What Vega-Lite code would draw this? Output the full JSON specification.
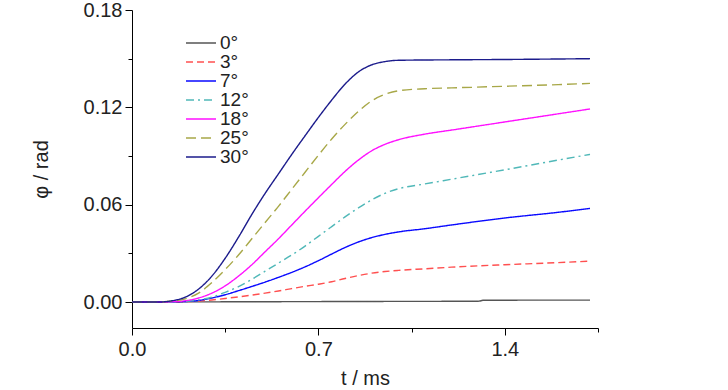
{
  "$schema": "https://vega.github.io/schema/vega-lite/v6.json",
  "width": 466,
  "height": 318,
  "autosize": {"type": "none"},
  "padding": {"left": 132, "top": 10, "right": 130, "bottom": 62},
  "background": "white",
  "config": {
    "view": {"stroke": null},
    "font": "Liberation Sans",
    "axis": {"domainColor": "#000000", "tickColor": "#000000", "labelColor": "#222222", "titleColor": "#222222", "labelFont": "Liberation Sans", "titleFont": "Liberation Sans", "labelFontSize": 20, "titleFontSize": 20, "titleFontWeight": "normal", "grid": false}
  },
  "data": {"values": [
    {"angle":"0°","t":0,"phi":0},{"angle":"0°","t":0.5,"phi":0.0002},{"angle":"0°","t":1.0,"phi":0.0004},{"angle":"0°","t":1.3,"phi":0.0005},{"angle":"0°","t":1.32,"phi":0.0011},{"angle":"0°","t":1.72,"phi":0.0012},

    {"angle":"3°","t":0,"phi":0},{"angle":"3°","t":0.12,"phi":0},{"angle":"3°","t":0.2,"phi":0.0002},{"angle":"3°","t":0.25,"phi":0.0006},{"angle":"3°","t":0.3,"phi":0.0013},{"angle":"3°","t":0.35,"phi":0.0022},{"angle":"3°","t":0.4,"phi":0.0032},{"angle":"3°","t":0.45,"phi":0.0043},{"angle":"3°","t":0.5,"phi":0.0055},{"angle":"3°","t":0.55,"phi":0.0068},{"angle":"3°","t":0.6,"phi":0.0083},{"angle":"3°","t":0.65,"phi":0.0097},{"angle":"3°","t":0.7,"phi":0.011},{"angle":"3°","t":0.75,"phi":0.0125},{"angle":"3°","t":0.8,"phi":0.0145},{"angle":"3°","t":0.85,"phi":0.0163},{"angle":"3°","t":0.9,"phi":0.0178},{"angle":"3°","t":0.95,"phi":0.0188},{"angle":"3°","t":1.0,"phi":0.0195},{"angle":"3°","t":1.1,"phi":0.0205},{"angle":"3°","t":1.2,"phi":0.0215},{"angle":"3°","t":1.4,"phi":0.023},{"angle":"3°","t":1.6,"phi":0.0243},{"angle":"3°","t":1.72,"phi":0.0252},

    {"angle":"7°","t":0,"phi":0},{"angle":"7°","t":0.12,"phi":0},{"angle":"7°","t":0.2,"phi":0.0003},{"angle":"7°","t":0.25,"phi":0.001},{"angle":"7°","t":0.3,"phi":0.0025},{"angle":"7°","t":0.35,"phi":0.0045},{"angle":"7°","t":0.4,"phi":0.007},{"angle":"7°","t":0.45,"phi":0.0096},{"angle":"7°","t":0.5,"phi":0.0123},{"angle":"7°","t":0.55,"phi":0.0152},{"angle":"7°","t":0.6,"phi":0.0183},{"angle":"7°","t":0.65,"phi":0.0217},{"angle":"7°","t":0.7,"phi":0.0255},{"angle":"7°","t":0.75,"phi":0.0296},{"angle":"7°","t":0.8,"phi":0.0336},{"angle":"7°","t":0.85,"phi":0.037},{"angle":"7°","t":0.9,"phi":0.0397},{"angle":"7°","t":0.95,"phi":0.0417},{"angle":"7°","t":1.0,"phi":0.0432},{"angle":"7°","t":1.1,"phi":0.0452},{"angle":"7°","t":1.2,"phi":0.0475},{"angle":"7°","t":1.4,"phi":0.0518},{"angle":"7°","t":1.6,"phi":0.0553},{"angle":"7°","t":1.72,"phi":0.0577},

    {"angle":"12°","t":0,"phi":0},{"angle":"12°","t":0.12,"phi":0},{"angle":"12°","t":0.2,"phi":0.0004},{"angle":"12°","t":0.25,"phi":0.0013},{"angle":"12°","t":0.3,"phi":0.003},{"angle":"12°","t":0.35,"phi":0.006},{"angle":"12°","t":0.4,"phi":0.0095},{"angle":"12°","t":0.45,"phi":0.014},{"angle":"12°","t":0.5,"phi":0.019},{"angle":"12°","t":0.55,"phi":0.024},{"angle":"12°","t":0.6,"phi":0.029},{"angle":"12°","t":0.65,"phi":0.0345},{"angle":"12°","t":0.7,"phi":0.0405},{"angle":"12°","t":0.75,"phi":0.0465},{"angle":"12°","t":0.8,"phi":0.0525},{"angle":"12°","t":0.85,"phi":0.058},{"angle":"12°","t":0.9,"phi":0.063},{"angle":"12°","t":0.95,"phi":0.067},{"angle":"12°","t":1.0,"phi":0.0698},{"angle":"12°","t":1.1,"phi":0.0728},{"angle":"12°","t":1.2,"phi":0.0757},{"angle":"12°","t":1.4,"phi":0.0815},{"angle":"12°","t":1.6,"phi":0.0875},{"angle":"12°","t":1.72,"phi":0.091},

    {"angle":"18°","t":0,"phi":0},{"angle":"18°","t":0.11,"phi":0},{"angle":"18°","t":0.15,"phi":0.0002},{"angle":"18°","t":0.2,"phi":0.0008},{"angle":"18°","t":0.25,"phi":0.0025},{"angle":"18°","t":0.3,"phi":0.0055},{"angle":"18°","t":0.35,"phi":0.01},{"angle":"18°","t":0.4,"phi":0.016},{"angle":"18°","t":0.45,"phi":0.023},{"angle":"18°","t":0.5,"phi":0.031},{"angle":"18°","t":0.55,"phi":0.039},{"angle":"18°","t":0.6,"phi":0.0475},{"angle":"18°","t":0.65,"phi":0.056},{"angle":"18°","t":0.7,"phi":0.0643},{"angle":"18°","t":0.75,"phi":0.0725},{"angle":"18°","t":0.8,"phi":0.0805},{"angle":"18°","t":0.85,"phi":0.0875},{"angle":"18°","t":0.9,"phi":0.0932},{"angle":"18°","t":0.95,"phi":0.0972},{"angle":"18°","t":1.0,"phi":0.1},{"angle":"18°","t":1.1,"phi":0.1035},{"angle":"18°","t":1.2,"phi":0.106},{"angle":"18°","t":1.4,"phi":0.111},{"angle":"18°","t":1.6,"phi":0.116},{"angle":"18°","t":1.72,"phi":0.119},

    {"angle":"25°","t":0,"phi":0},{"angle":"25°","t":0.1,"phi":0},{"angle":"25°","t":0.15,"phi":0.0006},{"angle":"25°","t":0.2,"phi":0.002},{"angle":"25°","t":0.25,"phi":0.0055},{"angle":"25°","t":0.3,"phi":0.012},{"angle":"25°","t":0.35,"phi":0.02},{"angle":"25°","t":0.4,"phi":0.029},{"angle":"25°","t":0.45,"phi":0.039},{"angle":"25°","t":0.5,"phi":0.049},{"angle":"25°","t":0.55,"phi":0.059},{"angle":"25°","t":0.6,"phi":0.0695},{"angle":"25°","t":0.65,"phi":0.08},{"angle":"25°","t":0.7,"phi":0.0905},{"angle":"25°","t":0.75,"phi":0.1005},{"angle":"25°","t":0.8,"phi":0.1095},{"angle":"25°","t":0.85,"phi":0.1175},{"angle":"25°","t":0.9,"phi":0.124},{"angle":"25°","t":0.95,"phi":0.128},{"angle":"25°","t":1.0,"phi":0.1302},{"angle":"25°","t":1.1,"phi":0.1315},{"angle":"25°","t":1.2,"phi":0.132},{"angle":"25°","t":1.4,"phi":0.133},{"angle":"25°","t":1.6,"phi":0.134},{"angle":"25°","t":1.72,"phi":0.1348},

    {"angle":"30°","t":0,"phi":0},{"angle":"30°","t":0.1,"phi":0},{"angle":"30°","t":0.15,"phi":0.0008},{"angle":"30°","t":0.2,"phi":0.003},{"angle":"30°","t":0.25,"phi":0.008},{"angle":"30°","t":0.3,"phi":0.016},{"angle":"30°","t":0.35,"phi":0.027},{"angle":"30°","t":0.4,"phi":0.04},{"angle":"30°","t":0.45,"phi":0.054},{"angle":"30°","t":0.5,"phi":0.067},{"angle":"30°","t":0.55,"phi":0.079},{"angle":"30°","t":0.6,"phi":0.091},{"angle":"30°","t":0.65,"phi":0.1025},{"angle":"30°","t":0.7,"phi":0.1138},{"angle":"30°","t":0.75,"phi":0.1245},{"angle":"30°","t":0.8,"phi":0.1343},{"angle":"30°","t":0.85,"phi":0.1418},{"angle":"30°","t":0.9,"phi":0.1462},{"angle":"30°","t":0.95,"phi":0.1482},{"angle":"30°","t":1.0,"phi":0.149},{"angle":"30°","t":1.2,"phi":0.1493},{"angle":"30°","t":1.4,"phi":0.1495},{"angle":"30°","t":1.6,"phi":0.1498},{"angle":"30°","t":1.72,"phi":0.15}
  ]},
  "mark": {"type": "line", "strokeWidth": 1.4, "clip": true, "interpolate": "monotone"},
  "encoding": {
    "x": {"field": "t", "type": "quantitative",
      "scale": {"domain": [0, 1.75], "nice": false, "zero": false},
      "axis": {"title": "t / ms", "values": [0, 0.35, 0.7, 1.05, 1.4, 1.75], "format": ".1f",
        "labelExpr": "abs(datum.value/0.7 - round(datum.value/0.7)) < 0.01 ? datum.label : ''",
        "tickSize": {"condition": {"test": "abs(datum.value/0.7 - round(datum.value/0.7)) < 0.01", "value": 7}, "value": 4},
        "labelPadding": 4, "titlePadding": 9, "labelFlush": false}},
    "y": {"field": "phi", "type": "quantitative",
      "scale": {"domain": [-0.016, 0.18], "nice": false, "zero": false},
      "axis": {"title": "φ / rad", "values": [0, 0.03, 0.06, 0.09, 0.12, 0.15, 0.18], "format": ".2f",
        "labelExpr": "abs(datum.value/0.06 - round(datum.value/0.06)) < 0.01 ? datum.label : ''",
        "tickSize": {"condition": {"test": "abs(datum.value/0.06 - round(datum.value/0.06)) < 0.01", "value": 7}, "value": 4},
        "labelPadding": 3, "titlePadding": 32}},
    "color": {"field": "angle", "type": "nominal",
      "scale": {"domain": ["0°","3°","7°","12°","18°","25°","30°"], "range": ["#555555","#ff5050","#0a0aff","#50b8b8","#ff10ff","#a8a848","#1c1c8c"]},
      "legend": {"title": null, "orient": "none", "legendX": 53, "legendY": 24, "symbolType": "stroke", "symbolSize": 900, "symbolStrokeWidth": 1.5, "labelFontSize": 19, "labelFont": "Liberation Sans", "labelColor": "#222222", "rowPadding": 0, "clipHeight": 18, "labelOffset": 3}},
    "strokeDash": {"field": "angle", "type": "nominal",
      "scale": {"domain": ["0°","3°","7°","12°","18°","25°","30°"], "range": [[1,0],[7,4],[1,0],[8,4,2,4],[1,0],[10,5],[1,0]]},
      "legend": null}
  }
}
